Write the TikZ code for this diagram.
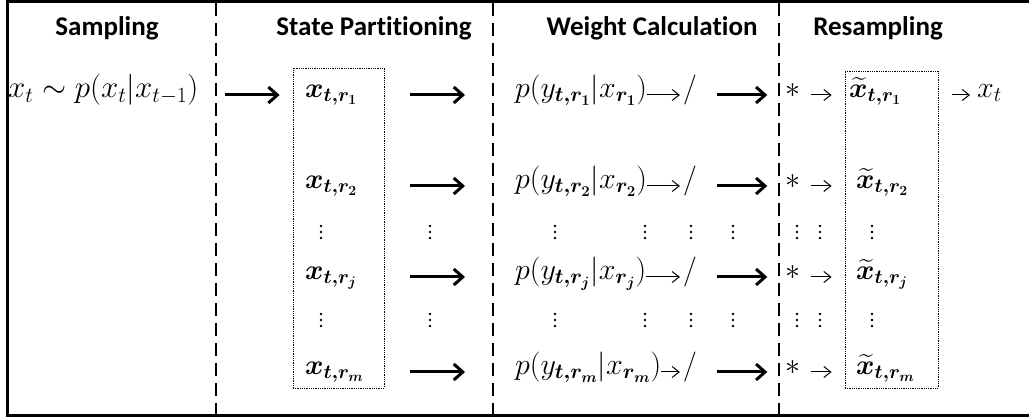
\RequirePackage{fix-cm}
\documentclass[tikz,border=0pt]{standalone}
\usepackage{amsmath}
\usepackage{bm}
\usepackage{fontspec}
\newfontfamily\headfont{Carlito}[Ligatures=NoCommon]
\usetikzlibrary{arrows.meta}

\begin{document}
\begin{tikzpicture}[x=1pt, y=-1pt,
    colhead/.style={font=\headfont\bfseries\fontsize{27}{30}\selectfont, anchor=base, inner sep=0},
    mth/.style={font=\fontsize{30}{34}\selectfont, anchor=west, inner sep=0, text height=14pt, text depth=9pt},
    xnode/.style={mth, font=\fontsize{28}{32}\selectfont},
    sym/.style={mth, anchor=center},
    divider/.style={line width=2pt, dash pattern=on 13pt off 7pt},
    dotbox/.style={draw, line width=0.8pt, dash pattern=on 0.9pt off 0.9pt, inner sep=0},
    bigarrow/.style={line width=3pt, -{Straight Barb[length=9pt, width=16pt]}},
    thinarrow/.style={line width=1pt, -{Straight Barb[length=7pt, width=11pt]}}]
    \useasboundingbox (0,0) rectangle (1029,419);
    \clip (0,0) rectangle (1029,419);

    % Frame, open on the right
    \draw[line width=2.5pt] (1040,1.5) -- (7.5,1.5) -- (7.5,415.5) -- (1040,415.5);

    % Column dividers
    \foreach \x in {216,493,779}
        \draw[divider] (\x,3) -- (\x,414);

    % Headings
    \node[colhead] (hsamp) at (107,36) {Sampling};
    \node[colhead] (hpart) at (374,36) {State Partitioning};
    \node[colhead] (hweight) at (652,36) {Weight Calculation};
    \node[colhead] (hres) at (878,36) {Resampling};

    % Boxes
    \node[dotbox, minimum width=91pt, minimum height=320pt] (pbox) at (338.5,228) {};
    \node[dotbox, minimum width=93pt, minimum height=317pt] (rbox) at (891.5,229.5) {};

    % Sampling
    \node[mth, font=\fontsize{31}{34}\selectfont] (samp) at (8,95) {$x_t \sim p(x_t|x_{t-1})$};
    \draw[bigarrow, shorten <=26pt, shorten >=13pt] (samp.east) -- (pbox.west |- samp.east);

    % Rows
    \foreach \r/\y/\xs in {1/95/849, 2/186/856, j/277/856, m/372/856} {
        \node[xnode] (xr\r) at (305,\y) {$\bm{x_{t,r_{\r}}}$};
        \node[mth] (p\r) at (515,\y) {$p(y_{\bm{t,r_{\r}}}|x_{\bm{r_{\r}}})$};
        \node[sym] (sl\r) at (690,\y) {$/$};
        \node[sym] (st\r) at (793,\y) {$*$};
        \node[xnode] (xs\r) at (\xs,\y) {$\bm{\widetilde{x}_{t,r_{\r}}}$};
        \draw[bigarrow, shorten <=26pt, shorten >=50pt] (pbox.east |- p\r.west) -- (p\r.west);
        \draw[thinarrow, shorten >=3pt] (p\r) -- (sl\r);
        \draw[bigarrow, shorten <=20pt, shorten >=18pt] (sl\r) -- (st\r);
        \draw[thinarrow, shorten <=10pt, shorten >=13pt] (st\r.east) -- (st\r.east -| rbox.west);
    }

    % Output
    \node[mth] (xt) at (977,95) {$x_t$};
    \draw[thinarrow, shorten <=14pt, shorten >=7pt] (rbox.east |- xt.west) -- (xt.west);

    % Vertical dots
    \foreach \x in {321,430,555,645,691,733,797,820,872}
        \foreach \y in {232,320}
            \foreach \k in {-6,0,6}
                \fill (\x,\y+\k) circle[radius=1.3pt];
\end{tikzpicture}
\end{document}
